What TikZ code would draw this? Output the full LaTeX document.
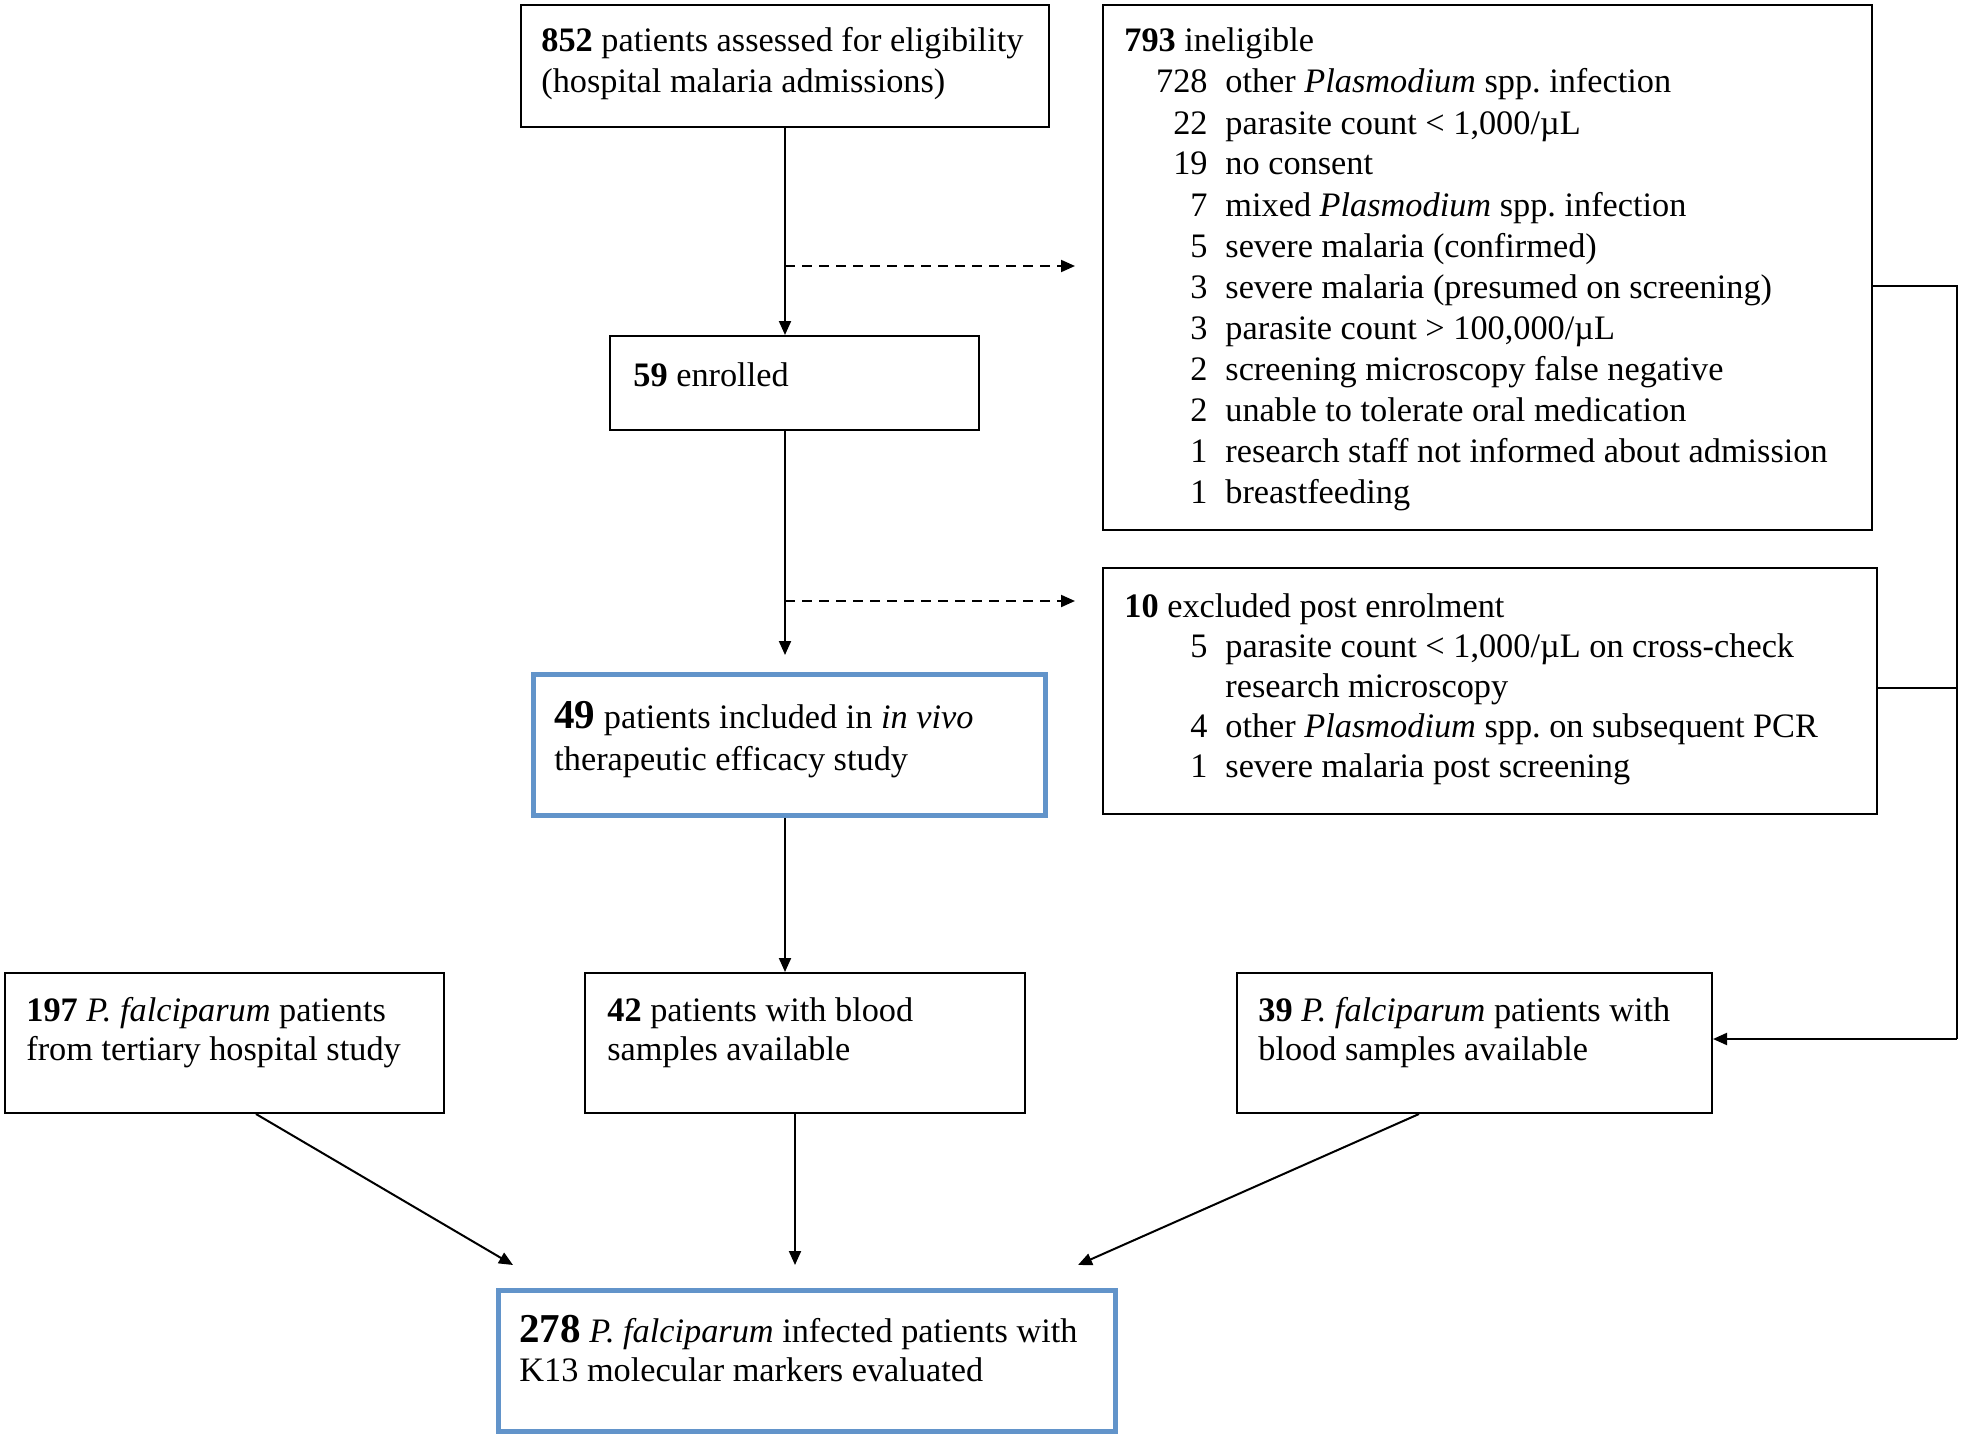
\documentclass[tikz,border=0pt]{standalone}
\usepackage{fontspec}
\setmainfont{Liberation Serif}
\usetikzlibrary{arrows.meta}
\definecolor{boxblue}{RGB}{98,148,202}
\newcommand\bignum[1]{{\fontsize{20.5}{20.5}\selectfont\textbf{#1}}}
\begin{document}
\frenchspacing
\begin{tikzpicture}[x=0.5pt,y=-0.5pt,
  box/.style={draw=black, line width=1pt, inner sep=0pt, anchor=north west},
  bluebox/.style={draw=boxblue, line width=2.4pt, inner sep=0pt, anchor=north west},
  txt/.style={anchor=base west, inner sep=0pt, font=\fontsize{17.15}{20.5}\selectfont},
  num/.style={txt, anchor=base east},
  conn/.style={line width=1pt},
  arr/.style={line width=1pt, -{Triangle[length=7pt,width=6pt]}},
  darr/.style={arr, dash pattern=on 5pt off 3.5pt}]
\useasboundingbox (0,0) rectangle (1961,1434);

% boxes
\node[box, minimum width=264pt, minimum height=61pt] (A) at (520,4) {};
\node[box, minimum width=384.5pt, minimum height=262.5pt] (B) at (1102,4) {};
\node[box, minimum width=184.5pt, minimum height=47pt] (C) at (609,335) {};
\node[box, minimum width=387pt, minimum height=123pt] (D) at (1102,567) {};
\node[bluebox, minimum width=256pt, minimum height=70.5pt] (E) at (531,672) {};
\node[box, minimum width=219.5pt, minimum height=70pt] (F) at (4,972) {};
\node[box, minimum width=220pt, minimum height=70pt] (G) at (584,972) {};
\node[box, minimum width=237.5pt, minimum height=70pt] (H) at (1236,972) {};
\node[bluebox, minimum width=308.5pt, minimum height=70.5pt] (I) at (496,1288) {};

% texts
\node[txt] (a1) at (541,52) {\textbf{852} patients assessed for eligibility};
\node[txt] (a2) at (541,93) {(hospital malaria admissions)};

\node[txt] (b0) at (1124,52) {\textbf{793} ineligible};
\node[num] (bn1) at (1208,93) {728};  \node[txt] (bt1) at (1225,93) {other \textit{Plasmodium} spp. infection};
\node[num] (bn2) at (1208,134) {22};  \node[txt] (bt2) at (1225,134) {parasite count < 1,000/µL};
\node[num] (bn3) at (1208,175) {19};  \node[txt] (bt3) at (1225,175) {no consent};
\node[num] (bn4) at (1208,216) {7};   \node[txt] (bt4) at (1225,216) {mixed \textit{Plasmodium} spp. infection};
\node[num] (bn5) at (1208,257) {5};   \node[txt] (bt5) at (1225,257) {severe malaria (confirmed)};
\node[num] (bn6) at (1208,298) {3};   \node[txt] (bt6) at (1225,298) {severe malaria (presumed on screening)};
\node[num] (bn7) at (1208,339) {3};   \node[txt] (bt7) at (1225,339) {parasite count > 100,000/µL};
\node[num] (bn8) at (1208,380) {2};   \node[txt] (bt8) at (1225,380) {screening microscopy false negative};
\node[num] (bn9) at (1208,421) {2};   \node[txt] (bt9) at (1225,421) {unable to tolerate oral medication};
\node[num] (bn10) at (1208,462) {1};  \node[txt] (bt10) at (1225,462) {research staff not informed about admission};
\node[num] (bn11) at (1208,503) {1};  \node[txt] (bt11) at (1225,503) {breastfeeding};

\node[txt] (c1) at (633,386) {\textbf{59} enrolled};

\node[txt] (d0) at (1124,617) {\textbf{10} excluded post enrolment};
\node[num] (dn1) at (1208,657) {5};  \node[txt] (dt1) at (1225,657) {parasite count < 1,000/µL on cross-check};
\node[txt] (dt1b) at (1225,697) {research microscopy};
\node[num] (dn2) at (1208,737) {4};  \node[txt] (dt2) at (1225,737) {other \textit{Plasmodium} spp. on subsequent PCR};
\node[num] (dn3) at (1208,777) {1};  \node[txt] (dt3) at (1225,777) {severe malaria post screening};

\node[txt] (e1) at (554,728) {\bignum{49} patients included in \textit{in vivo}};
\node[txt] (e2) at (554,770) {therapeutic efficacy study};

\node[txt] (f1) at (26,1021) {\textbf{197} \textit{P. falciparum} patients};
\node[txt] (f2) at (26,1060) {from tertiary hospital study};
\node[txt] (g1) at (607,1021) {\textbf{42} patients with blood};
\node[txt] (g2) at (607,1060) {samples available};
\node[txt] (h1) at (1258,1021) {\textbf{39} \textit{P. falciparum} patients with};
\node[txt] (h2) at (1258,1060) {blood samples available};

\node[txt] (i1) at (519,1342) {\bignum{278} \textit{P. falciparum} infected patients with};
\node[txt] (i2) at (519,1381) {K13 molecular markers evaluated};

% connectors
\coordinate (mx) at (785,0);
\coordinate (gx) at (795,0);
\coordinate (eTip) at (785,655);
\coordinate (iTip) at (795,1265);
\coordinate (d1s) at (785,266);
\coordinate (d1e) at (1075,266);
\coordinate (d2s) at (785,601);
\coordinate (d2e) at (1075,601);
\coordinate (fx) at (256,0);
\coordinate (fTip) at (513,1265);
\coordinate (hx) at (1419,0);
\coordinate (hTip) at (1078,1265);
\coordinate (rb1) at (1957,286);
\coordinate (rb2) at (1957,688);
\coordinate (rb3) at (1957,1039);

\draw[arr] (A.south -| mx) -- (C.north -| mx);
\draw[darr] (d1s) -- (d1e);
\draw[arr] (C.south -| mx) -- (eTip);
\draw[darr] (d2s) -- (d2e);
\draw[arr] (E.south -| mx) -- (G.north -| mx);
\draw[arr] (G.south -| gx) -- (iTip);
\draw[arr] (F.south -| fx) -- (fTip);
\draw[arr] (H.south -| hx) -- (hTip);

\draw[conn] (B.east |- rb1) -- (rb1) -- (rb3);
\draw[conn] (D.east |- rb2) -- (rb2);
\draw[arr] (rb3) -- (H.east |- rb3);
\end{tikzpicture}
\end{document}
